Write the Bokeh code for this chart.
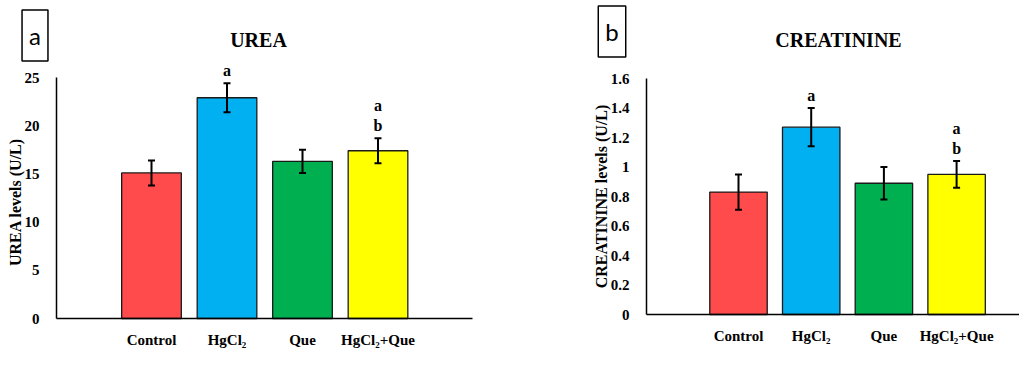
from bokeh.plotting import figure
from bokeh.models import (ColumnDataSource, Whisker, TeeHead, Label, LabelSet,
                          FixedTicker, CustomJSTickFormatter, Range1d, LinearAxis)
from bokeh.embed import file_html
from bokeh.resources import INLINE

# ---------------- data ----------------
groups = ["Control", "HgCl\u2082", "Que", "HgCl\u2082+Que"]
colors = ["#FF4B4B", "#00B0F0", "#00B050", "#FFFF00"]

urea_mean = [15.1, 22.9, 16.3, 17.4]
urea_err = [1.3, 1.5, 1.2, 1.3]
urea_ticks = [0, 5, 10, 15, 20, 25]

creat_mean = [0.83, 1.27, 0.89, 0.95]
creat_err = [0.12, 0.13, 0.11, 0.09]
creat_ticks = [0, 0.2, 0.4, 0.6, 0.8, 1.0, 1.2, 1.4, 1.6]

sig_line1 = ["", "a", "", "b"]   # letter just above the error bar
sig_line2 = ["", "", "", "a"]    # letter above that

SERIF = "Liberation Serif"
W, H = 1019, 349

p = figure(width=W, height=H, output_backend="svg", toolbar_location=None,
           x_axis_location=None, y_axis_location=None,
           min_border=0, min_border_left=0, min_border_right=0,
           min_border_top=0, min_border_bottom=0)
p.outline_line_color = None
p.grid.visible = False
p.background_fill_color = "white"
p.border_fill_color = "white"


class Map:
    """pixel layout -> data range for one panel"""
    def __init__(self, x1_px, dx_px, y0_px, ytop_px, ymax):
        self.x1, self.dx = x1_px, dx_px
        self.y0, self.k = y0_px, (y0_px - ytop_px) / ymax

    def x(self, px):
        return 1 + (px - self.x1) / self.dx

    def y(self, py):
        return (self.y0 - py) / self.k


def panel(name, m, axis_left_px, axis_right_px, ymax, ticks, means, errs,
          title, title_px, tag, tag_px, ylabel, yfmt):
    xr = Range1d(m.x(0), m.x(W))
    yr = Range1d(m.y(H), m.y(0))
    if name == "default":
        p.x_range, p.y_range = xr, yr
        kw = {}
    else:
        p.extra_x_ranges[name] = xr
        p.extra_y_ranges[name] = yr
        kw = dict(x_range_name=name, y_range_name=name)

    xs = list(range(1, len(groups) + 1))
    src = ColumnDataSource(dict(
        x=xs, top=means, color=colors,
        upper=[a + e for a, e in zip(means, errs)],
        lower=[a - e for a, e in zip(means, errs)],
        s1=sig_line1, s2=sig_line2))

    p.vbar(x="x", top="top", bottom=0, width=0.79, fill_color="color",
           line_color="#1a1a1a", line_width=1.3, source=src, **kw)

    p.add_layout(Whisker(base="x", upper="upper", lower="lower", source=src,
                         level="overlay", line_color="black", line_width=2,
                         upper_head=TeeHead(size=7, line_width=2),
                         lower_head=TeeHead(size=7, line_width=2), **kw))

    for col, off in (("s1", 13), ("s2", 33)):
        p.add_layout(LabelSet(x="x", y="upper", text=col, source=src,
                              y_offset=off, text_align="center",
                              text_baseline="middle", text_font=SERIF,
                              text_font_style="bold", text_font_size="16px",
                              text_color="black", **kw))

    p.add_layout(Label(x=m.x(title_px[0]), y=m.y(title_px[1]), text=title,
                       text_align="center", text_baseline="middle",
                       text_font=SERIF, text_font_style="bold",
                       text_font_size="20px", text_color="black", **kw))
    p.add_layout(Label(x=m.x(tag_px[0]), y=m.y(tag_px[1]), text=tag,
                       text_align="center", text_baseline="middle",
                       text_font="Lato", text_font_size="24px",
                       text_color="black", border_line_color="black",
                       border_line_width=1.5, padding=dict(x=7, y=11), **kw))

    xb = (m.x(axis_left_px), m.x(axis_right_px))
    xa = LinearAxis(ticker=FixedTicker(ticks=xs), fixed_location=0,
                    bounds=xb,
                    formatter=CustomJSTickFormatter(
                        args=dict(labels=groups),
                        code="return labels[Math.round(tick) - 1];"), **kw)
    ya = LinearAxis(ticker=FixedTicker(ticks=ticks), fixed_location=xb[0],
                    bounds=(0, ymax),
                    formatter=CustomJSTickFormatter(code=yfmt), **kw)
    for ax in (xa, ya):
        ax.axis_line_color = "black"
        ax.axis_line_width = 1.5
        ax.major_tick_line_color = None
        ax.minor_tick_line_color = None
        ax.major_label_text_font = SERIF
        ax.major_label_text_font_style = "bold"
        ax.major_label_text_font_size = "15px"
        ax.major_label_text_color = "black"
    xa.major_label_standoff = 7
    ya.major_label_standoff = 11
    ya.axis_label = ylabel
    ya.axis_label_text_font = SERIF
    ya.axis_label_text_font_style = "bold"
    ya.axis_label_text_font_size = "16px"
    ya.axis_label_text_color = "black"
    ya.axis_label_standoff = -2
    p.add_layout(xa, "below")
    p.add_layout(ya, "left")


# panel a: x=1 at px 151, 75.5 px per group; y=0 at px 318, y=25 at px 77
ma = Map(151, 75.5, 318, 77, 25)
panel("default", ma, 56, 472, 25, urea_ticks, urea_mean, urea_err,
      "UREA", (258, 39), "a", (34.5, 35), "UREA  levels  (U/L)",
      "return String(tick);")

# panel b: x=1 at px 738, 72.7 px per group; y=0 at px 314, y=1.6 at px 78
mb = Map(738, 72.7, 314, 78, 1.6)
panel("b", mb, 646, W, 1.6, creat_ticks, creat_mean, creat_err,
      "CREATININE", (838, 39), "b", (611.5, 31), "CREATININE levels (U/L)",
      "return String(Math.round(tick * 10) / 10);")

open("out.html", "w").write(file_html(p, INLINE))
